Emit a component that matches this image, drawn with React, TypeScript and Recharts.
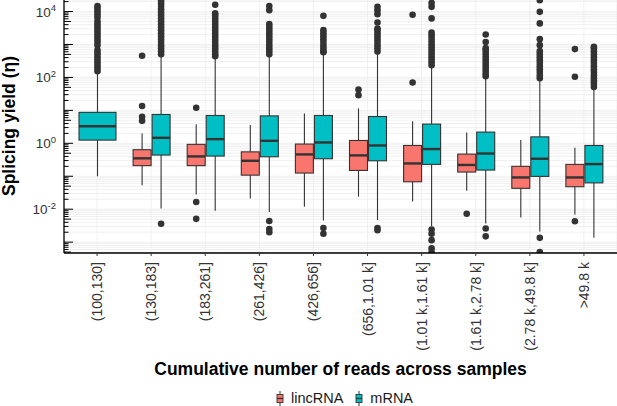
import React from 'react'
import { Bar, CartesianGrid, ComposedChart, Legend, XAxis, YAxis } from 'recharts'

const FONT = '"Liberation Sans", Arial, Helvetica, sans-serif'
const INK = '#333333'
const BAR_SIZE = 18
const BAR_GAP = 1

const categories = [
  '(100,130]',
  '(130,183]',
  '(183,261]',
  '(261,426]',
  '(426,656]',
  '(656,1.01 k]',
  '(1.01 k,1.61 k]',
  '(1.61 k,2.78 k]',
  '(2.78 k,49.8 k]',
  '>49.8 k',
]

// lincRNA boxes: whisker ends, hinges and median per bin (the first bin has none)
const lincLow = [null, 0.053, 0.028, 0.021, 0.0118, 0.024, 0.017, 0.036, 0.0056, 0.0069]
const lincQ1 = [null, 0.21, 0.21, 0.108, 0.125, 0.15, 0.068, 0.134, 0.043, 0.048]
const lincMedian = [null, 0.35, 0.4, 0.295, 0.46, 0.43, 0.245, 0.22, 0.092, 0.092]
const lincQ3 = [null, 0.64, 0.93, 0.55, 0.95, 1.22, 0.86, 0.47, 0.2, 0.229]
const lincHigh = [null, 2.0, 3.8, 3.6, 8.1, 11.5, 4.7, 2.14, 1.25, 0.73]
const lincOutliers = [
  [],
  [455, 13.5, 6.4, 4.8],
  [12, 0.0165, 0.0051],
  [],
  [],
  [43, 29],
  [7950, 70],
  [0.0073],
  [],
  [724, 105, 0.0043],
]

// mRNA boxes
const mrnaLow = [0.1, 0.0105, 0.0089, 0.0082, 0.0045, 0.0047, 0.0031, 0.0037, 0.0021, 0.00135]
const mrnaQ1 = [1.25, 0.44, 0.41, 0.39, 0.34, 0.295, 0.229, 0.154, 0.099, 0.063]
const mrnaMedian = [3.3, 1.47, 1.34, 1.19, 1.06, 0.86, 0.67, 0.49, 0.34, 0.234]
const mrnaQ3 = [8.7, 7.5, 7.0, 6.8, 7.0, 6.5, 3.83, 2.19, 1.57, 0.86]
const mrnaHigh = [150, 480, 425, 475, 560, 600, 235, 105, 83, 46]
const mrnaOutliers = [
  [155, 191, 236, 291, 359, 443, 546, 673, 955, 1180, 1450, 1790, 2210, 2720, 3360, 4140, 5110, 6760, 8340, 10280, 12680, 14600],
  [0.0036, 509, 628, 774, 955, 1180, 1450, 1790, 2210, 2720, 3360, 4140, 5110, 6310, 7780, 9590, 11800, 14600, 18000, 21000],
  [443, 509, 628, 774, 955, 1180, 1450, 1790, 2210, 2720, 3360, 4140, 5110, 6310, 7780, 8900, 16000],
  [509, 628, 774, 955, 1180, 1450, 1790, 2210, 2720, 3360, 4140, 11000, 14600, 0.0044, 0.0025, 0.002],
  [586, 628, 774, 955, 1180, 1450, 1790, 2210, 2720, 7400, 0.0027, 0.0018],
  [607, 774, 955, 1180, 1450, 1790, 2210, 2720, 3070, 4670, 8340, 11000, 13900, 0.0027, 0.0023],
  [236, 291, 359, 443, 546, 673, 830, 1020, 1260, 1560, 1920, 2300, 6200, 13900, 18300, 0.0024, 0.0018, 0.00115, 0.00065, 0.0005],
  [109, 126, 155, 191, 236, 291, 359, 443, 546, 673, 774, 1180, 2000, 0.0026, 0.0015],
  [95, 117, 145, 178, 220, 272, 335, 413, 509, 628, 955, 1450, 4360, 9800, 22000, 0.00135, 0.0005],
  [51, 63, 77, 95, 117, 145, 178, 220, 272, 335, 413, 509, 628, 774, 850],
]

const Y_DOMAIN: [number, number] = [0.000468, 22400]
const yLabelled = [0.01, 1, 100, 10000]
// log ticks: 1..9 x 10^k, kept inside the plotted range
const yLogTicks = [-4, -3, -2, -1, 0, 1, 2, 3, 4]
  .flatMap((k) => [1, 2, 3, 4, 5, 6, 7, 8, 9].map((m) => Number((m * 10 ** k).toPrecision(3))))
  .filter((v) => v >= Y_DOMAIN[0] && v <= Y_DOMAIN[1])

const seriesNames = ['lincRNA', 'mRNA'] as const
type SeriesName = (typeof seriesNames)[number]

const COLORS: Record<SeriesName, string> = { lincRNA: '#F8766D', mRNA: '#00BFC4' }

const stats = {
  lincRNA: { low: lincLow, q1: lincQ1, median: lincMedian, q3: lincQ3, high: lincHigh, outliers: lincOutliers },
  mRNA: { low: mrnaLow, q1: mrnaQ1, median: mrnaMedian, q3: mrnaQ3, high: mrnaHigh, outliers: mrnaOutliers },
}

// each bar spans the whisker range; the box itself is drawn by the shape
const rows = categories.map((cat, index) => ({
  cat,
  index,
  lincRNA: lincLow[index] == null ? null : [lincLow[index], lincHigh[index]],
  mRNA: [mrnaLow[index], mrnaHigh[index]],
}))

const makeBoxShape = (series: SeriesName) => (props: any) => {
  const { x, y, width, height, payload } = props
  const s = stats[series]
  const i = payload?.index
  const low = s.low[i]
  const high = s.high[i]
  if (low == null || high == null || !Number.isFinite(y) || !Number.isFinite(height)) return <g />

  // bar geometry comes from the log y scale, so other values are placed along the same scale
  const top = Math.log10(high)
  const bottom = Math.log10(low)
  const py = (v: number) => y + (height * (top - Math.log10(v))) / (top - bottom)

  // the first bin has no lincRNA, so its mRNA box takes the full dodge width
  const alone = series === 'mRNA' && stats.lincRNA.low[i] == null
  const bx = alone ? x - width - BAR_GAP : x
  const bw = alone ? 2 * width + BAR_GAP : width
  const cx = bx + bw / 2
  const yq1 = py(s.q1[i] as number)
  const yq3 = py(s.q3[i] as number)

  return (
    <g>
      <line x1={cx} x2={cx} y1={y} y2={yq3} stroke={INK} strokeWidth={1.1} />
      <line x1={cx} x2={cx} y1={yq1} y2={y + height} stroke={INK} strokeWidth={1.1} />
      <rect x={bx} y={yq3} width={bw} height={yq1 - yq3} fill={COLORS[series]} stroke={INK} strokeWidth={1.1} />
      <line x1={bx} x2={bx + bw} y1={py(s.median[i] as number)} y2={py(s.median[i] as number)} stroke={INK} strokeWidth={2.4} />
      {s.outliers[i].map((v, k) => (
        <circle key={k} cx={cx} cy={py(v)} r={3.3} fill={INK} />
      ))}
    </g>
  )
}

const YTick = (props: any) => {
  const { x, y, payload } = props
  const v = payload.value as number
  const e = Math.floor(Math.log10(v) + 1e-9)
  const m = Math.round(v / 10 ** e)
  const len = m === 1 ? 9 : m === 5 ? 7 : 4.5
  const labelled = yLabelled.some((b) => Math.abs(b - v) / b < 1e-6)
  return (
    <g>
      <line x1={x} x2={x + len} y1={y} y2={y} stroke="#000" strokeWidth={1} />
      {labelled && (
        <text x={x - 8} y={y + 0.5} textAnchor="end" dominantBaseline="central" fontFamily={FONT} fontSize={13.5} fill={INK}>
          10
          <tspan dy={-5} fontSize={9.5}>
            {e}
          </tspan>
        </text>
      )}
    </g>
  )
}

const XTick = (props: any) => {
  const { x, y, payload } = props
  return (
    <text
      x={x}
      y={y}
      transform={`rotate(-90 ${x} ${y})`}
      textAnchor="end"
      dominantBaseline="central"
      fontFamily={FONT}
      fontSize={14}
      fill={INK}
    >
      {payload.value}
    </text>
  )
}

const YTitle = () => (
  <text
    transform="translate(15,126) rotate(-90)"
    textAnchor="middle"
    fontFamily={FONT}
    fontSize={17.5}
    fontWeight={700}
    fill="#000"
  >
    Splicing yield (η)
  </text>
)

const LegendKey = ({ color }: { color: string }) => (
  <svg width={8} height={15}>
    <line x1={4} x2={4} y1={0} y2={15} stroke={INK} strokeWidth={1} />
    <rect x={1} y={3.5} width={6} height={8} fill={color} stroke={INK} strokeWidth={0.9} />
    <line x1={1} x2={7} y1={7.5} y2={7.5} stroke={INK} strokeWidth={1.3} />
  </svg>
)

const LegendContent = () => (
  <div
    style={{
      display: 'flex',
      justifyContent: 'center',
      alignItems: 'center',
      gap: 12,
      height: 18,
      fontFamily: FONT,
      fontSize: 14.5,
      color: '#1a1a1a',
    }}
  >
    {seriesNames.map((name) => (
      <span key={name} style={{ display: 'flex', alignItems: 'center', gap: 7 }}>
        <LegendKey color={COLORS[name]} />
        {name}
      </span>
    ))}
  </div>
)

export default function App() {
  return (
    <div style={{ position: 'absolute', left: 0, top: 0, width: 617, height: 406, background: '#fff' }}>
      <ComposedChart
        width={617}
        height={406}
        data={rows}
        margin={{ top: 0, right: 0, bottom: 0, left: 0 }}
        barSize={BAR_SIZE}
        barGap={BAR_GAP}
      >
        <CartesianGrid stroke="#ECECEC" strokeWidth={0.8} />
        <XAxis
          dataKey="cat"
          type="category"
          interval={0}
          height={135}
          padding={{ left: 6, right: 6 }}
          tick={<XTick />}
          tickSize={3}
          tickMargin={6}
          tickLine={{ stroke: INK, strokeWidth: 1 }}
          axisLine={{ stroke: '#000', strokeWidth: 1.3 }}
          label={{
            value: 'Cumulative number of reads across samples',
            position: 'insideBottom',
            offset: 13,
            fill: '#000',
            fontSize: 17.5,
            fontWeight: 700,
            fontFamily: FONT,
          }}
        />
        <YAxis
          type="number"
          scale="log"
          domain={Y_DOMAIN}
          allowDataOverflow
          ticks={yLogTicks}
          interval={0}
          width={64}
          tick={<YTick />}
          tickSize={0}
          tickMargin={0}
          tickLine={false}
          axisLine={{ stroke: '#000', strokeWidth: 1.3 }}
          label={<YTitle />}
        />
        <Legend
          content={<LegendContent />}
          verticalAlign="bottom"
          wrapperStyle={{ left: 64, width: 561, top: 389, height: 18 }}
        />
        {seriesNames.map((name) => (
          <Bar
            key={name}
            dataKey={name}
            name={name}
            fill={COLORS[name]}
            shape={makeBoxShape(name)}
            isAnimationActive={false}
          />
        ))}
      </ComposedChart>
    </div>
  )
}
